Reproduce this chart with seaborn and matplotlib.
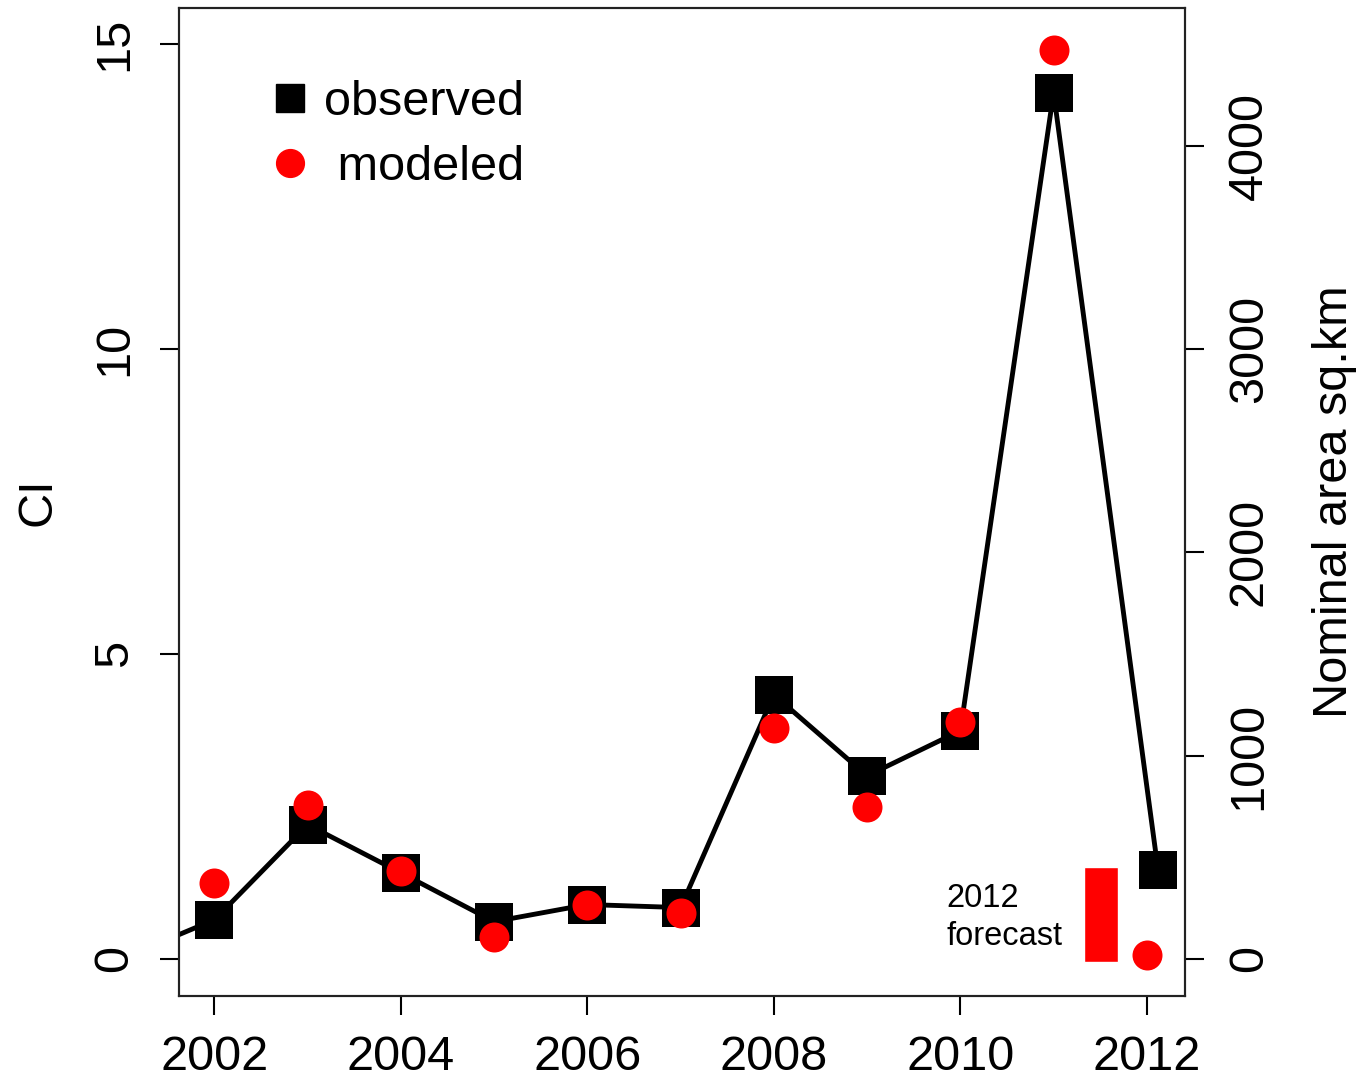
import numpy as np
import matplotlib.pyplot as plt
import seaborn as sns
from matplotlib.lines import Line2D

# observed CI (2001 sits just off the left edge, only the line shows)
obs_years = [2001, 2002, 2003, 2004, 2005, 2006, 2007, 2008, 2009, 2010, 2011, 2012.12]
observed = [0.0, 0.64, 2.2, 1.41, 0.61, 0.89, 0.84, 4.33, 3.0, 3.74, 14.2, 1.46]

mod_years = [2002, 2003, 2004, 2005, 2006, 2007, 2008, 2009, 2010, 2011, 2012]
modeled = [1.25, 2.52, 1.44, 0.36, 0.89, 0.75, 3.79, 2.49, 3.89, 14.9, 0.07]

# 2012 forecast bar (CI units)
fc_x = 2011.51
fc_width = 0.36
fc_bottom = -0.05
fc_top = 1.51

area_per_ci = 300  # right axis scale

sns.set_style("ticks")
plt.rcParams['font.family'] = ['Liberation Sans', 'DejaVu Sans']
plt.rcParams['text.color'] = 'black'
plt.rcParams['axes.labelcolor'] = 'black'
plt.rcParams['xtick.color'] = 'black'
plt.rcParams['ytick.color'] = 'black'

fig = plt.figure(figsize=(13.57, 10.79), dpi=100)
ax = fig.add_axes([0.1319, 0.0769, 0.7414, 0.9157])

sns.lineplot(x=obs_years, y=observed, color='black', lw=3.5, ax=ax, zorder=2)
sns.scatterplot(x=obs_years, y=observed, marker='s', s=28**2, color='black',
                linewidth=0, ax=ax, zorder=3)
sns.scatterplot(x=mod_years, y=modeled, marker='o', s=21.6**2, color='red',
                linewidth=0, ax=ax, zorder=4)
ax.bar([fc_x], [fc_top - fc_bottom], bottom=fc_bottom, width=fc_width,
       color='red', zorder=2)
ax.text(2009.85, 0.68, "2012\nforecast", fontsize=23.5, va='center', ha='left',
        linespacing=1.3)

ax.set_xlim(2001.62, 2012.41)
ax.set_ylim(-0.61, 15.59)
ax.set_xticks([2002, 2004, 2006, 2008, 2010, 2012])
ax.set_yticks([0, 5, 10, 15])
ax.set_ylabel("CI", fontsize=35, labelpad=23)
ax.tick_params(axis='both', labelsize=35, length=14, width=1.5, pad=16,
               direction='out')
ax.tick_params(axis='x', pad=14)
for lab in ax.get_yticklabels():
    lab.set_rotation(90)
    lab.set_va('center')

ax2 = ax.twinx()
lo, hi = ax.get_ylim()
ax2.set_ylim(lo * area_per_ci, hi * area_per_ci)
ax2.set_yticks([0, 1000, 2000, 3000, 4000])
ax2.tick_params(axis='y', labelsize=35, length=14, width=1.5, pad=16)
for lab in ax2.get_yticklabels():
    lab.set_rotation(90)
    lab.set_va('center')
ax2.set_ylabel("Nominal area sq.km", fontsize=35, rotation=90, labelpad=29)

for a in (ax, ax2):
    for sp in a.spines.values():
        sp.set_visible(True)
        sp.set_linewidth(1.5)
        sp.set_color('#222222')

handles = [Line2D([], [], marker='s', color='black', ls='none', markersize=20),
           Line2D([], [], marker='o', color='red', ls='none', markersize=20)]
ax.legend(handles, ["observed", " modeled"], loc='upper left',
          bbox_to_anchor=(0.0715, 0.952), frameon=False, fontsize=35,
          handlelength=0.6, handletextpad=0.4, labelspacing=0.42, borderpad=0)

fig.savefig("out.png", dpi=100)
